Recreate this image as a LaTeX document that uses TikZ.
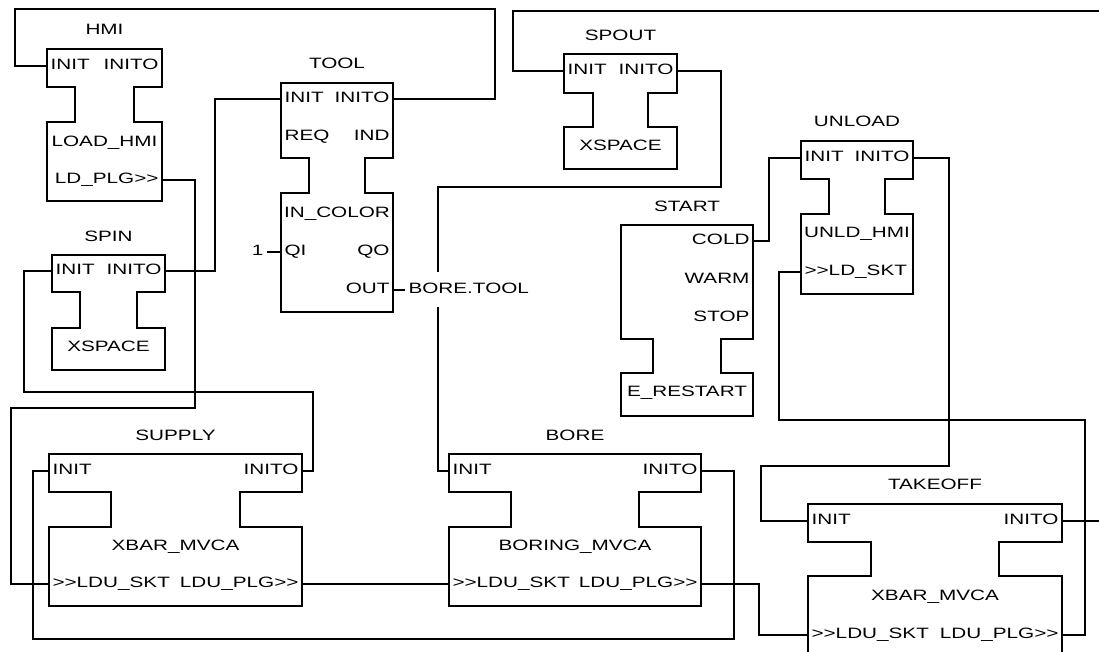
\documentclass[tikz,border=0pt]{standalone}
\usepackage{fontspec}
\newfontfamily\plcf[FakeStretch=1.38,Ligatures=TeXOff]{Liberation Sans}
\newcommand{\plcfont}{\plcf\fontsize{15}{15}\selectfont}

\begin{document}
\begin{tikzpicture}[x=1pt,y=-1pt,line width=1.1pt,
  lbl/.style={font=\plcfont,inner sep=3pt,text height=11pt,text depth=4pt},
  pl/.style={lbl,anchor=west},
  pr/.style={lbl,anchor=east}]
\useasboundingbox (0,0) rectangle (1099,652);
\clip (0,0) rectangle (1099,652);
\fill[white] (0,0) rectangle (1099,652);
% block outlines: left/top/right/bottom of head/top of body/bottom/notch
\foreach \xl/\yt/\xr/\ya/\yb/\yc/\n in {47/49/162/87/122/201/28,281/83/393/158/193/312/28,
  564/54/677/93/127/169/29,801/141/913/179/214/294/28,621/225/753/339/373/416/32,
  52/255/165/292/328/370/28,49/454/302/492/527/606/62,449/454/701/492/527/606/62,
  808/504/1062/542/576/656/63}
 {\draw (\xl,\yt) -- (\xr,\yt) -- (\xr,\ya) -- (\xr-\n,\ya) -- (\xr-\n,\yb) -- (\xr,\yb)
   -- (\xr,\yc) -- (\xl,\yc) -- (\xl,\yb) -- (\xl+\n,\yb) -- (\xl+\n,\ya) -- (\xl,\ya) -- cycle;}
% instance names and type names
\foreach \nm/\x/\y/\txt in {HMI/104.5/31/HMI,TOOL/337/65/TOOL,SPOUT/620.5/37/SPOUT,
  UNLOAD/857/123/UNLOAD,START/687/208/START,SPIN/108.5/238/SPIN,SUPPLY/175.5/437/SUPPLY,
  BORE/575/437/BORE,TAKEOFF/935/486/TAKEOFF,
  hmi-t/104.5/143/LOAD\_HMI,tool-t/337/214/IN\_COLOR,spout-t/620.5/147/XSPACE,
  unload-t/857/234/UNLD\_HMI,start-t/687/393/E\_RESTART,spin-t/108.5/348/XSPACE,
  supply-t/175.5/547/XBAR\_MVCA,bore-t/575/547/BORING\_MVCA,takeoff-t/935/597/XBAR\_MVCA}
 {\node[lbl] (\nm) at (\x,\y) {\txt};}
% inputs
\foreach \nm/\x/\y/\txt in {hmi-i/47/66/INIT,tool-i/281/99/INIT,tool-req/281/137/REQ,
  tool-qi/281/252/QI,spout-i/564/71/INIT,unload-i/801/158/INIT,unload-skt/801/272/>>LD\_SKT,
  spin-i/52/271/INIT,supply-i/49/471/INIT,supply-skt/49/584/>>LDU\_SKT,
  bore-i/449/471/INIT,bore-skt/449/584/>>LDU\_SKT,takeoff-i/808/521/INIT,
  takeoff-skt/808/635/>>LDU\_SKT}
 {\node[pl] (\nm) at (\x,\y) {\txt};}
% outputs
\foreach \nm/\x/\y/\txt in {hmi-o/162/66/INITO,hmi-plg/162/180/LD\_PLG>>,tool-o/393/99/INITO,
  tool-ind/393/137/IND,tool-qo/393/252/QO,tool-out/393/290/OUT,spout-o/677/71/INITO,
  unload-o/913/158/INITO,start-cold/753/241/COLD,start-warm/753/280/WARM,
  start-stop/753/318/STOP,spin-o/165/271/INITO,supply-o/302/471/INITO,
  supply-plg/302/584/LDU\_PLG>>,bore-o/701/471/INITO,bore-plg/701/584/LDU\_PLG>>,
  takeoff-o/1062/521/INITO,takeoff-plg/1062/635/LDU\_PLG>>}
 {\node[pr] (\nm) at (\x,\y) {\txt};}
\node[pr] (one) at (267,252) {1};
\node[pl] (boretool) at (405,290) {BORE.TOOL};
\draw (one.east) -- (tool-qi.west);
\draw (tool-out.east) -- (boretool.west);
% event and adapter connections
\draw (tool-o.east) -| (495,9) -- (15,9) |- (hmi-i.west);
\draw (hmi-plg.east) -| (195,408) -- (11,408) |- (supply-skt.west);
\draw (spin-o.east) -- ++(50,0) |- (tool-i.west);
\draw (spin-i.west) -- ++(-28,0) |- (313,392) |- (supply-o.east);
\draw (spout-o.east) -| (721,187) -| (438,272);
\draw (438,307) |- (bore-i.west);
\draw (bore-o.east) -- ++(33,0) |- (33,639) |- (supply-i.west);
\draw (supply-plg.east) -- (bore-skt.west);
\draw (bore-plg.east) -- ++(58,0) |- (takeoff-skt.west);
\draw (start-cold.east) -- ++(16,0) |- (unload-i.west);
\draw (unload-o.east) -| (949,466) -- (761,466) |- (takeoff-i.west);
\draw (unload-skt.west) -- ++(-22,0) |- (1085,420) |- (takeoff-plg.east);
\draw (takeoff-o.east) -- (1112,521) |- (513,11) |- (spout-i.west);
\end{tikzpicture}
\end{document}
